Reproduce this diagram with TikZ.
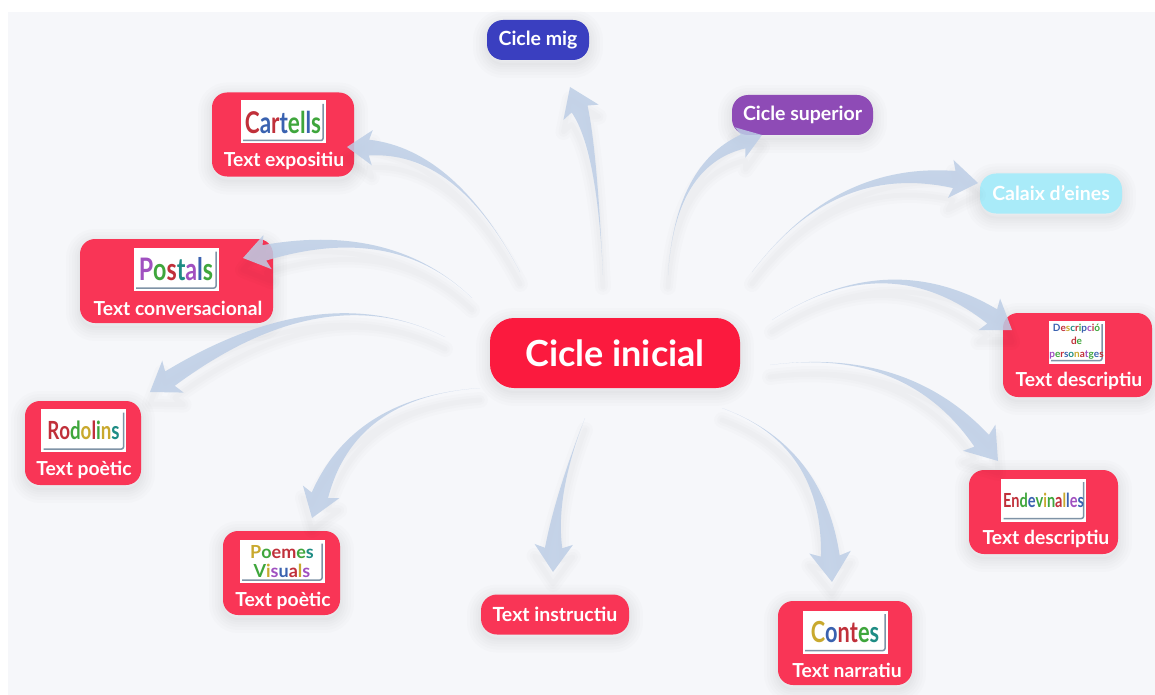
\documentclass[tikz,border=0pt]{standalone}
\usepackage{fontspec}
\setmainfont{Lato}
\usepackage{tikz}
\usetikzlibrary{calc}

\definecolor{panelgray}{HTML}{F6F7FA}
\definecolor{inired}{HTML}{FB1A3E}
\definecolor{boxred}{HTML}{F93556}
\definecolor{migblue}{HTML}{3A3FC0}
\definecolor{suppurple}{HTML}{8E4BB6}
\definecolor{eineblue}{HTML}{A9EBF9}
\definecolor{branchblue}{HTML}{BDCEE6}
\definecolor{thumbedge}{HTML}{7F93A6}
\definecolor{ltr}{HTML}{C0303A}
\definecolor{ltb}{HTML}{3A62B0}
\definecolor{ltg}{HTML}{3FA63C}
\definecolor{lty}{HTML}{C9A92E}
\definecolor{ltp}{HTML}{A050C0}
\definecolor{ltt}{HTML}{1E8C84}

\newcommand{\thumbword}[1]{\scalebox{0.75}[1]{#1}}

% tail, control, tip, head size
\newcommand{\branch}[4]{%
  \coordinate (hb) at ($(#3)!1.0*#4!(#2)$);
  \coordinate (wb) at ($(#3)!1.15*#4!(#2)$);
  \coordinate (bl) at ($(hb)!0.36*#4!90:(#3)$);
  \coordinate (br) at ($(hb)!0.36*#4!-90:(#3)$);
  \coordinate (wl) at ($(wb)!0.8*#4!90:(#3)$);
  \coordinate (wr) at ($(wb)!0.8*#4!-90:(#3)$);
  \fill[branchline] (#1) .. controls ($(#1)!0.667!(#2)$) and ($(bl)!0.667!(#2)$) .. (bl) -- (wl) -- (#3) -- (wr) -- (br) .. controls ($(br)!0.667!(#2)$) and ($(#1)!0.667!(#2)$) .. (#1) -- cycle;
}

\begin{document}
\begin{tikzpicture}[x=1pt,y=-1pt,font=\bfseries]
\tikzset{softlayer/.style={preaction={draw=black,draw opacity=0.012,line width=#1,transform canvas={yshift=-4pt}}}}
\tikzset{softshadow/.style={softlayer=28pt,softlayer=22pt,softlayer=16pt,softlayer=11pt,softlayer=6pt,softlayer=2pt}}
\tikzset{branchlayer/.style={preaction={fill=none,draw=black,draw opacity=0.012,line width=#1,line join=round,line cap=round,transform canvas={yshift=-12pt}}}}
\tikzset{ininode/.style={fill=inired,text=white,rounded corners=24pt,minimum width=250pt,minimum height=70pt,font=\bfseries\fontsize{36pt}{40pt}\selectfont,softshadow}}
\tikzset{cyclenode/.style={text=white,rounded corners=16pt,minimum height=40pt,font=\bfseries\fontsize{19.5pt}{22pt}\selectfont,softshadow}}
\tikzset{textnode/.style={fill=boxred,rounded corners=15pt,minimum height=84pt,softshadow}}
\tikzset{thumbnode/.style={fill=white,draw=white,line width=1pt,minimum width=84pt,minimum height=42pt,inner sep=0pt,align=center,
  path picture={\draw[thumbedge,line width=1.5pt,rounded corners=2pt] ([xshift=2pt,yshift=2.5pt]path picture bounding box.south west) -- ([xshift=-2pt,yshift=2.5pt]path picture bounding box.south east) -- ([xshift=-2pt,yshift=-3pt]path picture bounding box.north east);}}}
\tikzset{labelnode/.style={text=white,inner sep=0pt,font=\bfseries\fontsize{19.3pt}{22pt}\selectfont}}
\tikzset{branchline/.style={branchlayer=16pt,branchlayer=10pt,branchlayer=5pt,fill=branchblue,fill opacity=0.85}}

  \useasboundingbox (0,0) rectangle (1155,695);
  \fill[white] (0,0) rectangle (1155,695);
  \fill[panelgray] (8,12) rectangle (1155,695);

  \node[ininode] (ini) at (615,353) {Cicle inicial};

  \node[cyclenode,fill=migblue,minimum width=102pt] (mig) at (538,40) {Cicle mig};
  \node[cyclenode,fill=suppurple,minimum width=141pt] (sup) at (802.5,115) {Cicle superior};
  \node[cyclenode,fill=eineblue,minimum width=142pt] (eines) at (1051,193.5) {Calaix d'eines};
  \node[cyclenode,fill=boxred,minimum width=148pt] (instr) at (555,614.5) {Text instructiu};

  \node[textnode,minimum width=142pt] (cart) at (283,134.5) {};
  \node[thumbnode,font=\bfseries\fontsize{30pt}{30pt}\selectfont] (cartimg) at (283,122) {\thumbword{\color{ltr}C\color{ltb}a\color{ltr}r\color{ltb}t\color{ltg}e\color{ltg}l\color{ltb}l\color{ltg}s}};
  \node[labelnode] (cartlab) at (284,161) {Text expositiu};

  \node[textnode,minimum width=193pt] (post) at (176.5,281) {};
  \node[thumbnode,font=\bfseries\fontsize{31pt}{31pt}\selectfont] (postimg) at (176,269.5) {\thumbword{\color{ltp}P\color{ltg}o\color{ltr}s\color{ltt}t\color{ltp}a\color{ltb}l\color{ltg}s}};
  \node[labelnode] (postlab) at (178,308) {Text conversacional};

  \node[textnode,minimum width=116pt] (rod) at (83,443) {};
  \node[thumbnode,font=\bfseries\fontsize{25pt}{25pt}\selectfont] (rodimg) at (83.5,430.5) {\thumbword{\color{ltr}R\color{ltr}o\color{ltg}d\color{lty}o\color{ltr}l\color{ltg}i\color{lty}n\color{ltt}s}};
  \node[labelnode] (rodlab) at (84,470) {Text poètic};

  \node[textnode,minimum width=117pt] (poem) at (281.5,573) {};
  \node[thumbnode,font=\bfseries\fontsize{18pt}{19pt}\selectfont] (poemimg) at (282,561.5) {\color{lty}P\color{ltg}o\color{ltr}e\color{ltr}m\color{ltg}e\color{ltt}s\\\color{ltg}V\color{lty}i\color{ltp}s\color{ltb}u\color{ltr}a\color{lty}l\color{ltp}s};
  \node[labelnode] (poemlab) at (283,601) {Text poètic};

  \node[textnode,minimum width=134pt] (cont) at (845,643) {};
  \node[thumbnode,font=\bfseries\fontsize{29pt}{29pt}\selectfont] (contimg) at (845,632) {\thumbword{\color{lty}C\color{ltb}o\color{ltr}n\color{ltr}t\color{ltg}e\color{ltt}s}};
  \node[labelnode] (contlab) at (847,670) {Text narratiu};

  \node[textnode,minimum width=149pt] (endv) at (1043.5,512) {};
  \node[thumbnode,font=\bfseries\fontsize{19.4pt}{20pt}\selectfont] (endvimg) at (1043.5,500) {\thumbword{\color{ltr}E\color{ltr}n\color{ltg}d\color{ltb}e\color{ltg}v\color{lty}i\color{ltg}n\color{ltr}a\color{lty}l\color{ltb}l\color{ltp}e\color{ltb}s}};
  \node[labelnode] (endvlab) at (1046,539) {Text descriptiu};

  \node[textnode,minimum width=149pt] (desc) at (1077.5,355) {};
  \node[thumbnode,minimum width=55pt,font=\bfseries\fontsize{10pt}{13pt}\selectfont] (descimg) at (1076.5,342) {\color{ltb}D\color{ltr}e\color{lty}s\color{ltt}c\color{ltr}r\color{ltg}i\color{ltb}p\color{ltp}c\color{ltr}i\color{ltg}ó\\\color{ltr}d\color{ltg}e\\\color{ltp}p\color{ltg}e\color{ltr}r\color{ltb}s\color{ltt}o\color{lty}n\color{ltr}a\color{ltp}t\color{ltg}g\color{ltb}e\color{ltr}s};
  \node[labelnode] (desclab) at (1079,381) {Text descriptiu};

  % ends of the branches
  \coordinate (tmig) at (603,275);    \coordinate (cmig) at (597,149);    \coordinate (emig) at (570,87);
  \coordinate (tsup) at (668,275);    \coordinate (csup) at (675,165);    \coordinate (esup) at (762,135);
  \coordinate (tein) at (752,272);    \coordinate (cein) at (835,162);    \coordinate (eein) at (978,183);
  \coordinate (tcar) at (520,272);    \coordinate (ccar) at (456,150);    \coordinate (ecar) at (347,147);
  \coordinate (tpos) at (472,298);    \coordinate (cpos) at (393,222);    \coordinate (epos) at (243,258);
  \coordinate (trod) at (445,337);    \coordinate (crod) at (323,276);    \coordinate (erod) at (150,392);
  \coordinate (tpoe) at (480,388);    \coordinate (cpoe) at (354,397);    \coordinate (epoe) at (312,518);
  \coordinate (tins) at (585,418);    \coordinate (cins) at (555,495);    \coordinate (eins) at (553,572);
  \coordinate (tcon) at (722,408);    \coordinate (ccon) at (823,445);    \coordinate (econ) at (832,582);
  \coordinate (tend) at (770,365);    \coordinate (cend) at (906,347);    \coordinate (eend) at (998,461);
  \coordinate (tdes) at (772,320);    \coordinate (cdes) at (888,245);    \coordinate (edes) at (1012,330);

  \branch{tmig}{cmig}{emig}{24pt}
  \branch{tsup}{csup}{esup}{20pt}
  \branch{tein}{cein}{eein}{24pt}
  \branch{tcar}{ccar}{ecar}{22pt}
  \branch{tpos}{cpos}{epos}{22pt}
  \branch{trod}{crod}{erod}{24pt}
  \branch{tpoe}{cpoe}{epoe}{24pt}
  \branch{tins}{cins}{eins}{24pt}
  \branch{tcon}{ccon}{econ}{26pt}
  \branch{tend}{cend}{eend}{26pt}
  \branch{tdes}{cdes}{edes}{24pt}

\end{tikzpicture}
\end{document}
